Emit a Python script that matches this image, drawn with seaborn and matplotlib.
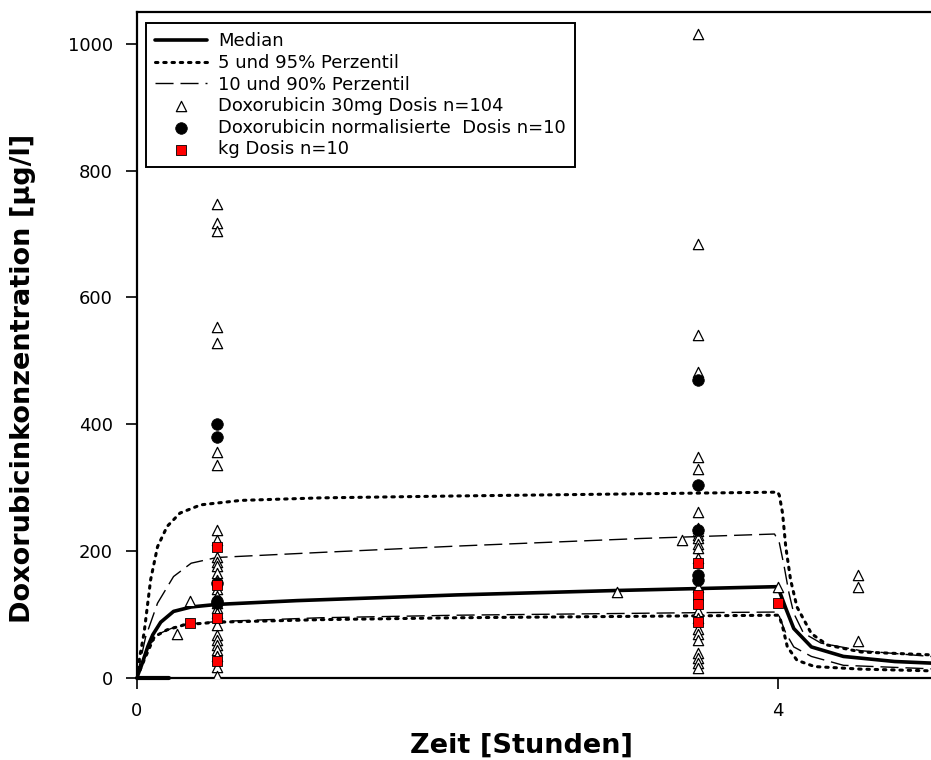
import matplotlib
matplotlib.use("Agg")
import matplotlib.pyplot as plt
import seaborn as sns

# ---------------- data ----------------
median_t = [0, 0.03, 0.07, 0.10, 0.15, 0.23, 0.34, 0.5, 1.0, 2.0, 3.0, 3.5, 4.0, 4.05, 4.10, 4.21, 4.41, 4.73, 5.0]
median_c = [0, 20, 50, 68, 88, 105, 112, 116, 122, 131, 138, 141, 144, 110, 78, 49, 34, 26, 23]

p95_t = [0, 0.02, 0.046, 0.087, 0.13, 0.19, 0.27, 0.40, 0.65, 1.15, 2.0, 3.0, 4.0, 4.01, 4.03, 4.05, 4.08, 4.12, 4.21, 4.31, 4.52, 5.0]
p95_c = [0, 35, 71, 155, 207, 239, 260, 273, 280, 284, 287, 290, 293, 288, 260, 207, 155, 112, 70, 52, 41, 36]

p5_t = [0, 0.02, 0.046, 0.11, 0.19, 0.30, 0.5, 1.15, 2.0, 3.0, 4.0, 4.01, 4.03, 4.06, 4.12, 4.23, 4.52, 5.0]
p5_c = [0, 12, 28, 65, 76, 84, 88, 92, 95, 97, 99, 97, 81, 49, 28, 18, 14, 11]

p90_t = [0, 0.056, 0.13, 0.23, 0.34, 0.5, 1.15, 2.0, 3.15, 3.98, 4.01, 4.04, 4.07, 4.10, 4.16, 4.27, 4.52, 5.0]
p90_c = [0, 65, 118, 160, 181, 190, 198, 208, 220, 227, 213, 176, 134, 102, 71, 55, 43, 33]

p10_t = [0, 0.066, 0.15, 0.27, 0.5, 1.15, 2.0, 3.5, 4.0, 4.01, 4.05, 4.10, 4.21, 4.41, 5.0]
p10_c = [0, 49, 71, 84, 89, 95, 99, 103, 104, 97, 71, 49, 34, 20, 14]

base_t = [0, 0.2]
base_c = [0, 0]

tri_t = ([0.25, 0.33] + [0.5] * 27 + [3.0, 3.4] + [3.5] * 24 + [4.0] + [4.5] * 3)
tri_c = ([69, 121]
         + [747, 718, 704, 554, 528, 357, 336, 233, 218, 191, 183, 176, 165, 155,
            140, 130, 118, 110, 102, 84, 68, 60, 52, 44, 35, 18, 3]
         + [135, 217]
         + [1016, 684, 540, 483, 349, 329, 262, 236, 231, 226, 220, 212, 205, 189,
            144, 105, 94, 78, 70, 60, 39, 31, 23, 16]
         + [143]
         + [163, 143, 58])

norm_t = [0.5, 0.5, 0.5, 0.5, 0.5, 3.5, 3.5, 3.5, 3.5, 3.5]
norm_c = [400, 380, 150, 122, 118, 470, 304, 234, 163, 155]

kg_t = [0.33, 0.5, 0.5, 0.5, 0.5, 3.5, 3.5, 3.5, 3.5, 4.0]
kg_c = [87, 206, 147, 94, 27, 182, 131, 117, 89, 119]

x_ticks = [0, 4]
y_ticks = [0, 200, 400, 600, 800, 1000]

labels = ["Median", "5 und 95% Perzentil", "10 und 90% Perzentil",
          "Doxorubicin 30mg Dosis n=104", "Doxorubicin normalisierte  Dosis n=10",
          "kg Dosis n=10"]

# ---------------- plot ----------------
sns.set_style("ticks")
plt.rcParams["font.family"] = ["DejaVu Sans"]
plt.rcParams["text.color"] = "black"
plt.rcParams["axes.labelcolor"] = "black"

W, H = 931, 760
fig = plt.figure(figsize=(W / 100, H / 100), dpi=100)
x0, x1 = 136.7, 938.0
y0, y1 = 678.0, 12.0
ax = fig.add_axes([x0 / W, (H - y0) / H, (x1 - x0) / W, (y0 - y1) / H])

dot = (0, (0.8, 1.9))
dash = (0, (13, 5))

sns.lineplot(x=median_t, y=median_c, ax=ax, color="black", lw=2.6,
             estimator=None, sort=False, label=labels[0])
sns.lineplot(x=p95_t, y=p95_c, ax=ax, color="black", lw=2.2,
             estimator=None, sort=False, label=labels[1],
             linestyle=dot, dash_capstyle="round")
sns.lineplot(x=p5_t, y=p5_c, ax=ax, color="black", lw=2.2,
             estimator=None, sort=False, label="_nolegend_",
             linestyle=dot, dash_capstyle="round")
sns.lineplot(x=p90_t, y=p90_c, ax=ax, color="black", lw=1.0,
             estimator=None, sort=False, label=labels[2], linestyle=dash)
sns.lineplot(x=p10_t, y=p10_c, ax=ax, color="black", lw=1.0,
             estimator=None, sort=False, label="_nolegend_", linestyle=dash)
sns.lineplot(x=base_t, y=base_c, ax=ax, color="black", lw=3.0,
             estimator=None, sort=False, label="_nolegend_", clip_on=False)

sns.scatterplot(x=tri_t, y=tri_c, ax=ax, marker="^", s=55, facecolor="white",
                edgecolor="black", linewidth=0.9, label=labels[3], zorder=3)
sns.scatterplot(x=norm_t, y=norm_c, ax=ax, marker="o", s=70, color="black",
                edgecolor="black", linewidth=0.5, label=labels[4], zorder=4)
sns.scatterplot(x=kg_t, y=kg_c, ax=ax, marker="s", s=45, color="#ff0000",
                edgecolor="black", linewidth=0.6, label=labels[5], zorder=5)

ax.set_xlim(0, 5)
ax.set_ylim(0, 1050)
ax.set_xticks(x_ticks)
ax.set_yticks(y_ticks)
ax.tick_params(axis="both", direction="out", length=8, width=1.2,
               labelsize=13, pad=9, colors="black")
for s in ["left", "bottom", "top", "right"]:
    ax.spines[s].set_linewidth(1.6)
    ax.spines[s].set_color("black")

ax.set_xlabel("Zeit [Stunden]", fontsize=19.5, fontweight="bold", color="black")
ax.set_ylabel("Doxorubicinkonzentration [µg/l]", fontsize=19.5, fontweight="bold",
              color="black")
ax.xaxis.set_label_coords((521 - x0) / (x1 - x0), -0.082)
ax.yaxis.set_label_coords(-0.126, (y0 - 378) / (y0 - y1))

leg = ax.legend(loc="upper left", bbox_to_anchor=(0.0116, 0.983), borderaxespad=0,
                fontsize=13, frameon=True, fancybox=False, shadow=False,
                handlelength=2.9, handletextpad=0.6, labelspacing=0.2,
                borderpad=0.5, markerscale=1.0)
leg.get_frame().set_edgecolor("black")
leg.get_frame().set_linewidth(1.4)
leg.get_frame().set_alpha(1)

fig.savefig("out.png", dpi=100)
